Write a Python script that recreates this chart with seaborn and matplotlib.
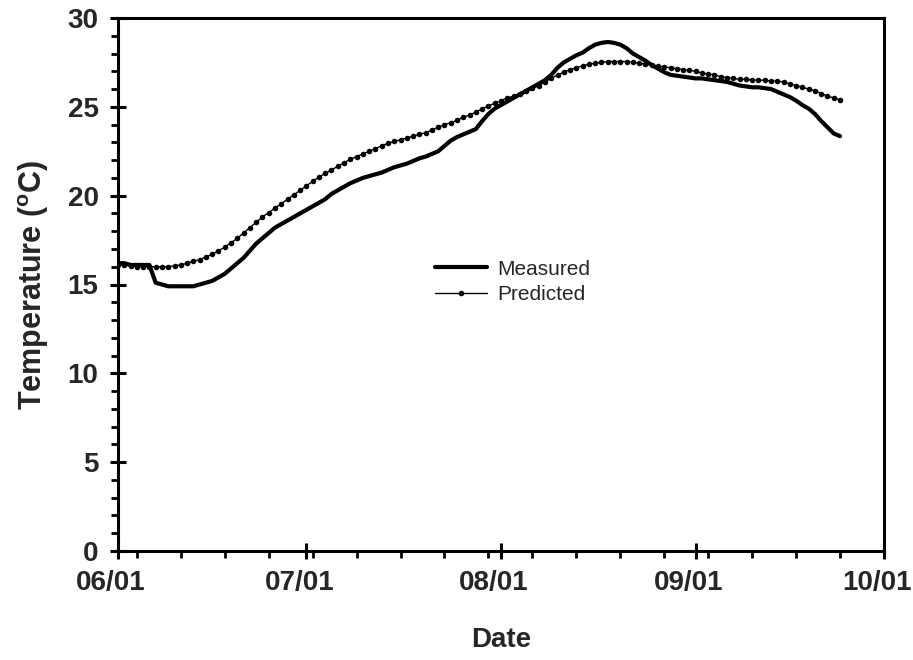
import numpy as np
import pandas as pd
import matplotlib
matplotlib.use("Agg")
import matplotlib.pyplot as plt
import matplotlib.dates as mdates
import matplotlib.transforms as mtransforms
from matplotlib.ticker import MultipleLocator, FixedLocator
import seaborn as sns

# Daily water temperature, 1 June to 24 September
start_date = "2001-06-01"

measured = [
    16.2, 16.2, 16.1, 16.1, 16.1, 16.1, 15.1, 15.0, 14.9, 14.9,
    14.9, 14.9, 14.9, 15.0, 15.1, 15.2, 15.4, 15.6, 15.9, 16.2,
    16.5, 16.9, 17.3, 17.6, 17.9, 18.2, 18.4, 18.6, 18.8, 19.0,
    19.2, 19.4, 19.6, 19.8, 20.1, 20.3, 20.5, 20.7, 20.85, 21.0,
    21.1, 21.2, 21.3, 21.45, 21.6, 21.7, 21.8, 21.95, 22.1, 22.2,
    22.35, 22.5, 22.8, 23.1, 23.3, 23.45, 23.6, 23.75, 24.2, 24.6,
    24.9, 25.1, 25.3, 25.5, 25.7, 25.9, 26.1, 26.3, 26.5, 26.8,
    27.2, 27.5, 27.7, 27.9, 28.05, 28.3, 28.5, 28.6, 28.65, 28.6,
    28.5, 28.3, 28.0, 27.8, 27.6, 27.35, 27.15, 26.95, 26.8, 26.75,
    26.7, 26.65, 26.6, 26.6, 26.55, 26.5, 26.45, 26.4, 26.3, 26.2,
    26.15, 26.1, 26.1, 26.05, 26.0, 25.85, 25.7, 25.55, 25.35, 25.1,
    24.9, 24.6, 24.2, 23.85, 23.5, 23.35,
]

predicted = [
    16.1, 16.1, 16.05, 16.0, 16.0, 16.0, 16.0, 16.0, 16.0, 16.05,
    16.1, 16.2, 16.3, 16.4, 16.55, 16.7, 16.9, 17.1, 17.35, 17.6,
    17.9, 18.2, 18.5, 18.8, 19.05, 19.3, 19.55, 19.8, 20.05, 20.3,
    20.55, 20.8, 21.05, 21.25, 21.45, 21.65, 21.85, 22.05, 22.2, 22.35,
    22.5, 22.65, 22.8, 22.95, 23.05, 23.15, 23.25, 23.35, 23.45, 23.55,
    23.7, 23.85, 24.0, 24.1, 24.25, 24.4, 24.55, 24.7, 24.9, 25.05,
    25.2, 25.35, 25.5, 25.6, 25.75, 25.9, 26.05, 26.2, 26.4, 26.6,
    26.8, 26.95, 27.1, 27.2, 27.3, 27.4, 27.45, 27.5, 27.55, 27.55,
    27.55, 27.55, 27.5, 27.45, 27.4, 27.35, 27.3, 27.25, 27.2, 27.15,
    27.1, 27.05, 27.0, 26.9, 26.85, 26.8, 26.7, 26.65, 26.6, 26.55,
    26.55, 26.5, 26.5, 26.5, 26.45, 26.45, 26.4, 26.3, 26.2, 26.1,
    26.0, 25.9, 25.75, 25.6, 25.5, 25.4,
]

series_names = ["Measured", "Predicted"]
x_label = "Date"
y_label = "Temperature ($\\mathbf{^o}$C)"

dates = pd.date_range(start_date, periods=len(measured), freq="D")

sns.set_style("ticks")
plt.rcParams["font.family"] = ["Liberation Sans", "DejaVu Sans"]
plt.rcParams["mathtext.fontset"] = "custom"
plt.rcParams["mathtext.rm"] = "Liberation Sans"
plt.rcParams["mathtext.bf"] = "Liberation Sans:bold"

fig = plt.figure(figsize=(9.13, 6.6), dpi=100)
ax = fig.add_axes([118 / 913, 109 / 660, 766 / 913, 533 / 660])

sns.lineplot(x=dates, y=measured, ax=ax, color="black", linewidth=3.0,
             label=series_names[0])
sns.lineplot(x=dates, y=predicted, ax=ax, color="black", linewidth=1.0,
             marker="o", markersize=4.0, markeredgewidth=0,
             label=series_names[1])

ax.set_xlim(pd.Timestamp("2001-06-01"), pd.Timestamp("2001-10-01"))
ax.set_ylim(0, 30)

ax.xaxis.set_major_locator(mdates.MonthLocator())
ax.xaxis.set_major_formatter(mdates.DateFormatter("%m/%d"))
weekly = pd.date_range("2001-06-04", "2001-10-01", freq="7D")
ax.xaxis.set_minor_locator(FixedLocator(mdates.date2num(weekly)))
ax.yaxis.set_major_locator(MultipleLocator(5))
ax.yaxis.set_minor_locator(MultipleLocator(1))

for side in ["left", "right", "top", "bottom"]:
    ax.spines[side].set_visible(True)
    ax.spines[side].set_linewidth(2.2)
    ax.spines[side].set_color("black")

ax.tick_params(axis="both", which="major", direction="inout", length=12,
               width=2.2, labelsize=20, color="black", pad=8)
ax.tick_params(axis="both", which="minor", direction="out", length=5,
               width=2.0, color="black")
for lbl in ax.get_xticklabels() + ax.get_yticklabels():
    lbl.set_fontweight("bold")

# date labels sit a little to the left of their ticks
shift = mtransforms.ScaledTranslation(-7 / 100, 0, fig.dpi_scale_trans)
for lbl in ax.get_xticklabels():
    lbl.set_transform(lbl.get_transform() + shift)

ax.set_xlabel(x_label, fontsize=20, fontweight="bold", labelpad=22)
ax.set_ylabel(y_label, fontsize=22, fontweight="bold", labelpad=12)

leg = ax.legend(loc="center left", bbox_to_anchor=((435 - 118) / 766, 0.505),
                frameon=False, fontsize=15, handlelength=2.5,
                handletextpad=0.5, labelspacing=0.3, borderpad=0,
                borderaxespad=0)

fig.savefig("out.png", dpi=100, facecolor="white")
